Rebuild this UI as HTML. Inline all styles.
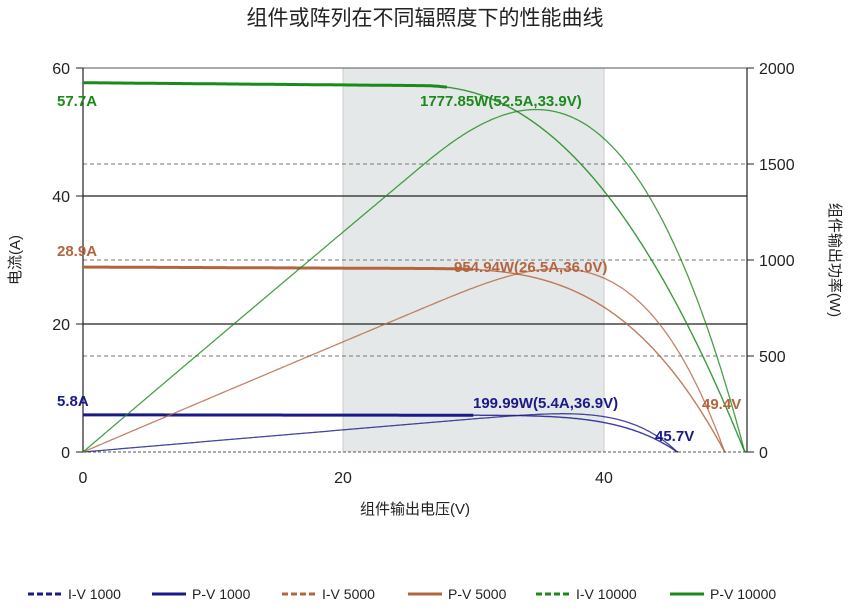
<!DOCTYPE html>
<html><head><meta charset="utf-8"><style>
body{margin:0;background:#fff;}
svg text{font-family:"Liberation Sans","Noto Sans CJK SC",sans-serif;}
</style></head><body>
<svg id="s" width="850" height="606" xmlns="http://www.w3.org/2000/svg">
<rect width="850" height="606" fill="#fff"/>
<text x="425" y="25" font-size="21" text-anchor="middle" fill="#222">组件或阵列在不同辐照度下的性能曲线</text>
<rect x="343" y="68" width="261" height="384" fill="#e5e8e9"/>
<line x1="343" y1="68" x2="343" y2="452" stroke="#ccc"/>
<line x1="604" y1="68" x2="604" y2="452" stroke="#ccc"/>
<line x1="83" y1="68" x2="747" y2="68" stroke="#555" stroke-width="1"/>
<line x1="83" y1="196" x2="747" y2="196" stroke="#222" stroke-width="1.2"/>
<line x1="83" y1="324" x2="747" y2="324" stroke="#222" stroke-width="1.2"/>
<g stroke="#777" stroke-dasharray="4,3" stroke-width="1">
<line x1="83" y1="164" x2="747" y2="164"/>
<line x1="83" y1="260" x2="747" y2="260"/>
<line x1="83" y1="356" x2="747" y2="356"/>
</g>
<line x1="83" y1="452" x2="747" y2="452" stroke="#555" stroke-dasharray="3,2"/>
<line x1="83" y1="68" x2="83" y2="452" stroke="#222" stroke-width="1.2"/>
<line x1="747" y1="68" x2="747" y2="452" stroke="#222" stroke-width="1.2"/>
<g stroke="#222">
<line x1="76" y1="68" x2="83" y2="68"/><line x1="76" y1="196" x2="83" y2="196"/><line x1="76" y1="324" x2="83" y2="324"/><line x1="76" y1="452" x2="83" y2="452"/>
<line x1="747" y1="68" x2="754" y2="68"/><line x1="747" y1="164" x2="754" y2="164"/><line x1="747" y1="260" x2="754" y2="260"/><line x1="747" y1="356" x2="754" y2="356"/><line x1="747" y1="452" x2="754" y2="452"/>
</g>
<g font-size="16" fill="#222">
<text x="70" y="74" text-anchor="end">60</text>
<text x="70" y="202" text-anchor="end">40</text>
<text x="70" y="330" text-anchor="end">20</text>
<text x="70" y="458" text-anchor="end">0</text>
<text x="759" y="74">2000</text>
<text x="759" y="170">1500</text>
<text x="759" y="266">1000</text>
<text x="759" y="362">500</text>
<text x="759" y="458">0</text>
<text x="83" y="483" text-anchor="middle">0</text>
<text x="343" y="483" text-anchor="middle">20</text>
<text x="604" y="483" text-anchor="middle">40</text>
</g>
<text x="415" y="514" font-size="15" text-anchor="middle" fill="#222">组件输出电压(V)</text>
<text transform="translate(20,260) rotate(-90)" font-size="15" text-anchor="middle" fill="#222">电流(A)</text>
<text transform="translate(830,260) rotate(90)" font-size="15" text-anchor="middle" fill="#222">组件输出功率(W)</text>
<g id="curves"></g>
<g font-size="15" font-weight="bold">
<text x="57" y="106" fill="#1a8a1a">57.7A</text>
<text x="420" y="106" fill="#1a8a1a">1777.85W(52.5A,33.9V)</text>
<text x="57" y="256" fill="#b5653e">28.9A</text>
<text x="454" y="272" fill="#b5653e">954.94W(26.5A,36.0V)</text>
<text x="702" y="409" fill="#b5653e">49.4V</text>
<text x="57" y="406" fill="#1a1a8a">5.8A</text>
<text x="473" y="408" fill="#1a1a8a">199.99W(5.4A,36.9V)</text>
<text x="655" y="441" fill="#1a1a8a">45.7V</text>
</g>
<g font-size="14" fill="#222">
<line x1="28" y1="594" x2="62" y2="594" stroke="#1a1a8a" stroke-width="3" stroke-dasharray="6,3"/><text x="68" y="599">I-V 1000</text>
<line x1="152" y1="594" x2="186" y2="594" stroke="#1a1a8a" stroke-width="3"/><text x="192" y="599">P-V 1000</text>
<line x1="282" y1="594" x2="316" y2="594" stroke="#b5653e" stroke-width="3" stroke-dasharray="6,3"/><text x="322" y="599">I-V 5000</text>
<line x1="408" y1="594" x2="442" y2="594" stroke="#b5653e" stroke-width="3"/><text x="448" y="599">P-V 5000</text>
<line x1="536" y1="594" x2="570" y2="594" stroke="#1a8a1a" stroke-width="3" stroke-dasharray="6,3"/><text x="576" y="599">I-V 10000</text>
<line x1="670" y1="594" x2="704" y2="594" stroke="#1a8a1a" stroke-width="3"/><text x="710" y="599">P-V 10000</text>
</g>
</svg>
<script>
var X=function(v){return 83+v*13.02;},YA=function(a){return 452-a*6.4;},YP=function(p){return 452-p*0.192;};
var series=[
 {isc:5.8,voc:45.7,vmp:36.9,imp:5.4,c:"#1a1a8a",cut:30},
 {isc:28.9,voc:49.4,vmp:36.0,imp:26.5,c:"#b5653e",cut:30},
 {isc:57.7,voc:51,vmp:33.9,imp:52.5,c:"#1a8a1a",cut:28}
];
var g=document.getElementById("curves"),ns="http://www.w3.org/2000/svg";
function path(d,c,w,op){var p=document.createElementNS(ns,"path");p.setAttribute("d",d);p.setAttribute("fill","none");p.setAttribute("stroke",c);p.setAttribute("stroke-width",w);if(op)p.setAttribute("opacity",op);g.appendChild(p);}
series.forEach(function(s){
 var v0=26, sl=0.0003;
 var base=s.isc*(1-sl*s.vmp);
 var r=(s.vmp-v0)/(s.voc-v0);
 var m=Math.log((base-s.imp)/s.isc)/Math.log(r);
 function I(v){var b=s.isc*(1-sl*v);if(v>v0){b-=s.isc*Math.pow((v-v0)/(s.voc-v0),m);}return Math.max(b,0);}
 var d1="",d2="",d3="";
 for(var i=0;i<=500;i++){var v=s.voc*i/500;var cur=I(v);
  if(i==500)cur=0;
  var pt=X(v).toFixed(1)+","+YA(cur).toFixed(1);
  if(v<=s.cut){d1+=(d1?"L":"M")+pt;}
  if(v>=s.cut-0.2){d2+=(d2?"L":"M")+pt;}
  d3+=(i?"L":"M")+X(v).toFixed(1)+","+YP(v*cur).toFixed(1);}
 path(d1,s.c,3);path(d2,s.c,1.4,0.85);path(d3,s.c,1.3,0.8);
});
</script>
</body></html>
